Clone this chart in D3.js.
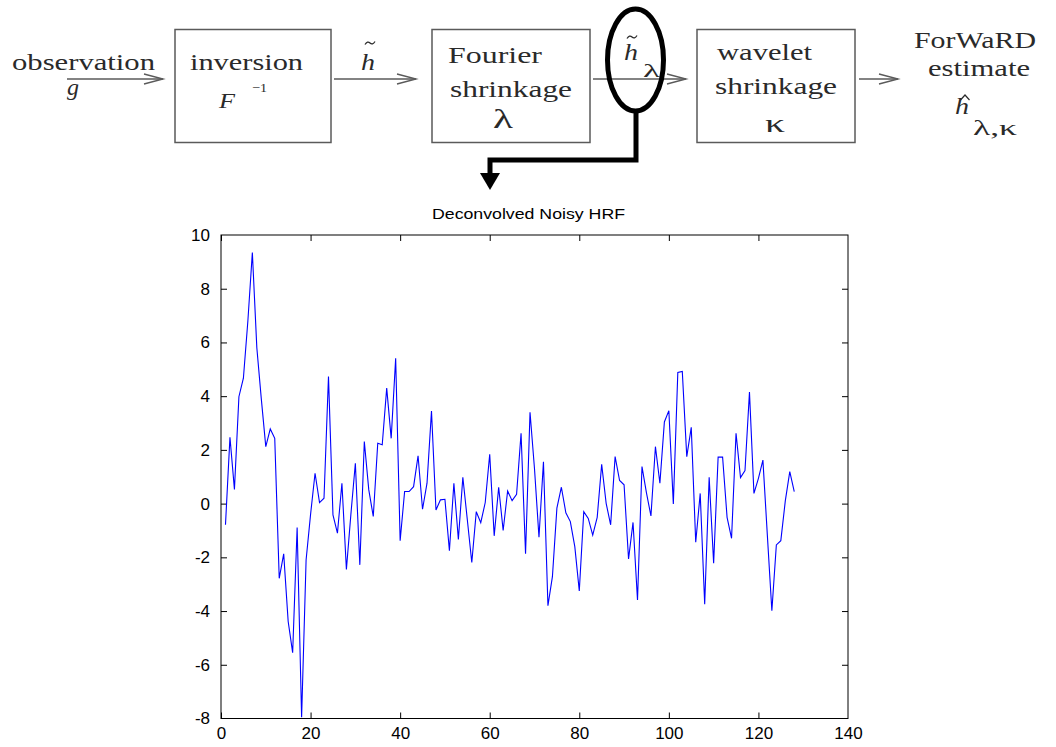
<!DOCTYPE html>
<html>
<head>
<meta charset="utf-8">
<script src="https://cdn.jsdelivr.net/npm/d3@7"></script>
<style>
  html, body { margin: 0; padding: 0; background: #fff; }
  svg { display: block; }
</style>
</head>
<body>
<svg id="fig" width="1056" height="747"></svg>
<script>
// Deconvolved noisy HRF samples, one per time index 1..128
const sampleIndex = d3.range(1, 129);
const hrfValues = [
  -0.79, 2.47, 0.53, 3.98, 4.67, 6.8, 9.35, 5.8, 3.9, 2.12,
  2.78, 2.43, -2.78, -1.87, -4.39, -5.55, -0.89, -7.95, -2.1, -0.4,
  1.13, 0.04, 0.2, 4.73, -0.42, -1.1, 0.76, -2.45, -0.4, 1.5,
  -2.28, 2.31, 0.51, -0.48, 2.25, 2.19, 4.3, 2.43, 5.41, -1.38,
  0.45, 0.45, 0.63, 1.78, -0.21, 0.76, 3.45, -0.24, 0.14, 0.16,
  -1.75, 0.76, -1.33, 0.98, -0.6, -2.19, -0.3, -0.71, 0.04, 1.84,
  -1.2, 0.61, -1.0, 0.47, 0.11, 0.35, 2.62, -1.87, 3.4, 1.3,
  -1.25, 1.56, -3.8, -2.72, -0.17, 0.61, -0.34, -0.67, -1.6, -3.25,
  -0.3, -0.55, -1.17, -0.51, 1.46, 0.01, -0.79, 1.75, 0.86, 0.7,
  -2.06, -0.7, -3.59, 1.38, 0.4, -0.46, 2.12, 0.76, 3.04, 3.46,
  -0.01, 4.88, 4.92, 1.75, 2.84, -1.44, 0.38, -3.75, 0.98, -2.22,
  1.73, 1.73, -0.51, -1.29, 2.62, 0.97, 1.23, 4.15, 0.38, 0.94,
  1.62, -1.2, -3.99, -1.54, -1.38, 0.1, 1.19, 0.45
];
const xTickValues = [0, 20, 40, 60, 80, 100, 120, 140];
const yTickValues = [-8, -6, -4, -2, 0, 2, 4, 6, 8, 10];
const chartTitle = "Deconvolved Noisy HRF";

// Block diagram stages
const stageBoxes = ["inversion", "fourier", "wavelet"];

const svg = d3.select("#fig");

/* ---------------- processing pipeline diagram ---------------- */
const diag = svg.append("g").attr("class", "diagram");
const ink = "#2a2a2a";
const frame = "#5a5a5a";
const serif = "'Liberation Serif', 'Times New Roman', serif";

function label(str, x, y, size, len, opts = {}) {
  const t = diag.append("text")
    .attr("x", x).attr("y", y)
    .attr("font-family", serif)
    .attr("font-size", size)
    .attr("fill", ink)
    .attr("font-style", opts.italic ? "italic" : "normal")
    .attr("text-anchor", opts.anchor || "start")
    .text(str);
  if (len) t.attr("textLength", len).attr("lengthAdjust", "spacingAndGlyphs");
  return t;
}

function arrow(x1, x2, y) {
  diag.append("line")
    .attr("x1", x1).attr("x2", x2).attr("y1", y).attr("y2", y)
    .attr("stroke", frame).attr("stroke-width", 1.4);
  diag.append("path")
    .attr("d", `M${x2 - 19},${y - 5} L${x2},${y} L${x2 - 19},${y + 5}`)
    .attr("fill", "none").attr("stroke", frame).attr("stroke-width", 1.4);
}

function tilde(cx, cy) {
  diag.append("path")
    .attr("d", `M${cx - 5},${cy + 1.5} q2.5,-4 5,-1.5 t5,-1.5`)
    .attr("fill", "none").attr("stroke", ink).attr("stroke-width", 1.3);
}

function hat(cx, cy) {
  diag.append("path")
    .attr("d", `M${cx - 4.5},${cy + 5} L${cx},${cy} L${cx + 4.5},${cy + 5}`)
    .attr("fill", "none").attr("stroke", ink).attr("stroke-width", 1.2);
}

const boxGeom = {
  inversion: [175, 331],
  fourier: [432, 590],
  wavelet: [697, 855]
};
stageBoxes.forEach(k => {
  const [x0, x1] = boxGeom[k];
  diag.append("rect")
    .attr("x", x0).attr("y", 29.5)
    .attr("width", x1 - x0).attr("height", 113)
    .attr("fill", "none").attr("stroke", frame).attr("stroke-width", 1.5);
});

// signal flow
arrow(67, 163, 79);
arrow(334, 416, 79);
arrow(593, 686, 79);
arrow(859, 898, 79);

// input
label("observation", 12, 70, 23, 143);
label("g", 67, 95, 23, 12, { italic: true });

// inversion stage
label("inversion", 190, 70, 23, 113);
label("F", 219, 108, 22, 16, { italic: true });
label("\u22121", 252, 92, 13, 15);

// raw estimate
label("h", 361, 70, 23, 14, { italic: true });
tilde(370, 43);

// Fourier shrinkage stage
label("Fourier", 448, 63, 23, 94);
label("shrinkage", 450, 97, 23, 122);
label("\u03bb", 503, 128, 27, 20, { anchor: "middle" });

// intermediate estimate (highlighted)
label("h", 624, 60, 23, 14, { italic: true });
tilde(632, 37);
label("\u03bb", 643, 77, 19, 17);

// wavelet shrinkage stage
label("wavelet", 717, 60, 23, 95);
label("shrinkage", 715, 94, 23, 122);
label("\u03ba", 775, 132, 26, 20, { anchor: "middle" });

// output
label("ForWaRD", 914, 48, 23, 122);
label("estimate", 928, 76, 23, 102);
label("h", 955, 114, 24, 14, { italic: true });
hat(965, 95);
label("\u03bb,\u03ba", 973, 135, 20, 44);

// highlight ring and call-out to the plot
diag.append("ellipse")
  .attr("cx", 635.5).attr("cy", 60).attr("rx", 28).attr("ry", 51)
  .attr("fill", "none").attr("stroke", "#000").attr("stroke-width", 5);
diag.append("path")
  .attr("d", "M636,111 L636,160 L490,160 L490,174")
  .attr("fill", "none").attr("stroke", "#000").attr("stroke-width", 5)
  .attr("stroke-linejoin", "miter");
diag.append("path")
  .attr("d", "M480,173 L500,173 L490,190 Z")
  .attr("fill", "#000");

/* ---------------- line plot ---------------- */
const plot = { left: 221, right: 848, top: 235, bottom: 718.5 };
const x = d3.scaleLinear().domain([0, 140]).range([plot.left, plot.right]);
const y = d3.scaleLinear().domain([-8, 10]).range([plot.bottom, plot.top]);

const sans = "'Liberation Sans', Arial, sans-serif";
const tickLen = 6;

// axes with inward ticks on all four sides
const axBottom = svg.append("g")
  .attr("transform", `translate(0,${plot.bottom})`)
  .call(d3.axisBottom(x).tickValues(xTickValues).tickSizeInner(-tickLen).tickSizeOuter(0).tickPadding(tickLen + 4));
const axTop = svg.append("g")
  .attr("transform", `translate(0,${plot.top})`)
  .call(d3.axisTop(x).tickValues(xTickValues).tickSizeInner(-tickLen).tickSizeOuter(0).tickFormat(""));
const axLeft = svg.append("g")
  .attr("transform", `translate(${plot.left},0)`)
  .call(d3.axisLeft(y).tickValues(yTickValues).tickSizeInner(-tickLen).tickSizeOuter(0).tickPadding(tickLen + 5));
const axRight = svg.append("g")
  .attr("transform", `translate(${plot.right},0)`)
  .call(d3.axisRight(y).tickValues(yTickValues).tickSizeInner(-tickLen).tickSizeOuter(0).tickFormat(""));

[axBottom, axTop, axLeft, axRight].forEach(g => {
  g.select(".domain").remove();
  g.selectAll(".tick line").attr("stroke", "#000").attr("stroke-width", 1);
  g.selectAll(".tick text")
    .attr("font-family", sans).attr("font-size", 17).attr("fill", "#000");
});
axBottom.selectAll(".tick text").attr("dy", "0.6em");
axLeft.selectAll(".tick text").text(d => d < 0 ? "-" + Math.abs(d) : d);

// hide ticks sitting on the frame corners
[axTop, axBottom].forEach(g => g.selectAll(".tick line").filter(d => d === 140).remove());
[axLeft, axRight].forEach(g => g.selectAll(".tick line").filter(d => d === 10 || d === -8).remove());

// plot frame
svg.append("rect")
  .attr("x", plot.left).attr("y", plot.top)
  .attr("width", plot.right - plot.left).attr("height", plot.bottom - plot.top)
  .attr("fill", "none").attr("stroke", "#000").attr("stroke-width", 1);

// HRF trace
const line = d3.line()
  .x((d, i) => x(sampleIndex[i]))
  .y(d => y(d));
svg.append("path")
  .datum(hrfValues)
  .attr("d", line)
  .attr("fill", "none")
  .attr("stroke", "#0000ff")
  .attr("stroke-width", 1.1);

// title
svg.append("text")
  .attr("x", 528.5)
  .attr("y", 219)
  .attr("text-anchor", "middle")
  .attr("font-family", sans)
  .attr("font-size", 15)
  .attr("textLength", 193)
  .attr("lengthAdjust", "spacingAndGlyphs")
  .attr("fill", "#000")
  .text(chartTitle);
</script>
</body>
</html>
